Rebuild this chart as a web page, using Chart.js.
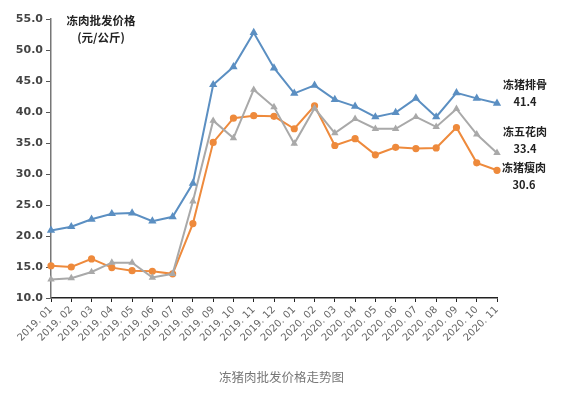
<!DOCTYPE html>
<html><head><meta charset="utf-8">
<script src="https://cdn.jsdelivr.net/npm/chart.js@4"></script>
<style>
html,body{margin:0;padding:0;background:#fff;}
#wrap{position:relative;width:563px;height:399px;}
canvas{position:absolute;left:0;top:0;}
.lbl{position:absolute;font-family:"Noto Sans CJK SC",sans-serif;font-weight:bold;font-size:11px;color:#222;text-align:center;line-height:17px;white-space:nowrap;}
#cap{position:absolute;left:0;width:563px;top:367px;text-align:center;font-family:"Noto Sans CJK SC",sans-serif;font-size:12.5px;color:#777;}
</style></head>
<body><div id="wrap">
<canvas id="c" width="563" height="399"></canvas>
<div class="lbl" style="left:58px;top:12px;width:86px;font-size:11.5px;">冻肉批发价格<br>(元/公斤)</div>
<div class="lbl" style="left:500px;top:76px;width:50px;">冻猪排骨<br>41.4</div>
<div class="lbl" style="left:500px;top:123px;width:50px;">冻五花肉<br>33.4</div>
<div class="lbl" style="left:495px;top:159px;width:58px;">冻猪瘦肉<br>30.6</div>
<div id="cap">冻猪肉批发价格走势图</div>
</div>
<script>
const months = ["2019.01","2019.02","2019.03","2019.04","2019.05","2019.06","2019.07","2019.08","2019.09","2019.10","2019.11","2019.12",
"2020.01","2020.02","2020.03","2020.04","2020.05","2020.06","2020.07","2020.08","2020.09","2020.10","2020.11"];
const ribs = [20.9,21.5,22.7,23.6,23.7,22.4,23.1,28.5,44.4,47.3,52.8,47.1,43.0,44.3,42.0,40.9,39.2,39.9,42.2,39.2,43.1,42.2,41.4];
const belly = [13.0,13.2,14.2,15.7,15.7,13.3,13.9,25.6,38.6,35.8,43.6,40.8,34.9,40.6,36.6,38.9,37.3,37.3,39.2,37.6,40.5,36.4,33.4];
const lean = [15.2,15.0,16.3,14.9,14.4,14.3,13.9,22.0,35.1,39.0,39.4,39.3,37.3,41.0,34.6,35.7,33.1,34.3,34.1,34.2,37.5,31.8,30.6];
const yTicks = [10,15,20,25,30,35,40,45,50,55];

new Chart(document.getElementById('c'), {
  type: 'line',
  data: {
    labels: months,
    datasets: [
      {label:'冻猪排骨', data: ribs, borderColor:'#5b8fc2', backgroundColor:'#5b8fc2', borderWidth:2,
       pointStyle:'triangle', pointRadius:2.8, tension:0},
      {label:'冻五花肉', data: belly, borderColor:'#a9a9a9', backgroundColor:'#a9a9a9', borderWidth:2,
       pointStyle:'triangle', pointRadius:2.3, tension:0},
      {label:'冻猪瘦肉', data: lean, borderColor:'#ee8a3c', backgroundColor:'#ee8a3c', borderWidth:2,
       pointStyle:'circle', pointRadius:2.6, tension:0}
    ]
  },
  options: {
    responsive:false, animation:false,
    layout:{padding:{top:19,right:66,left:0,bottom:0}},
    plugins:{legend:{display:false}, tooltip:{enabled:false}},
    scales:{
      x:{
        offset:false,
        grid:{drawOnChartArea:false, tickLength:4, color:'#222', tickColor:'#222'},
        border:{color:'#222', width:1.5},
        ticks:{minRotation:45, maxRotation:45, autoSkip:false, color:'#666', padding:2,
               callback:function(v){return this.getLabelForValue(v).replace('.', '. ');},
               font:{family:'"DejaVu Sans"', size:10}},
        afterFit:(s)=>{s.height=101;}
      },
      y:{
        min:10, max:55,
        afterBuildTicks:(s)=>{s.ticks = yTicks.map(v=>({value:v}));},
        grid:{drawOnChartArea:false, tickLength:5, color:'#777', tickColor:'#555'},
        border:{color:'#777', width:1.5},
        ticks:{color:'#444', padding:3, callback:(v)=>Number(v).toFixed(1),
               font:{family:'"DejaVu Sans"', size:11, weight:'bold'}},
        afterFit:(s)=>{s.width=51;}
      }
    }
  }
});
</script>
</body></html>
